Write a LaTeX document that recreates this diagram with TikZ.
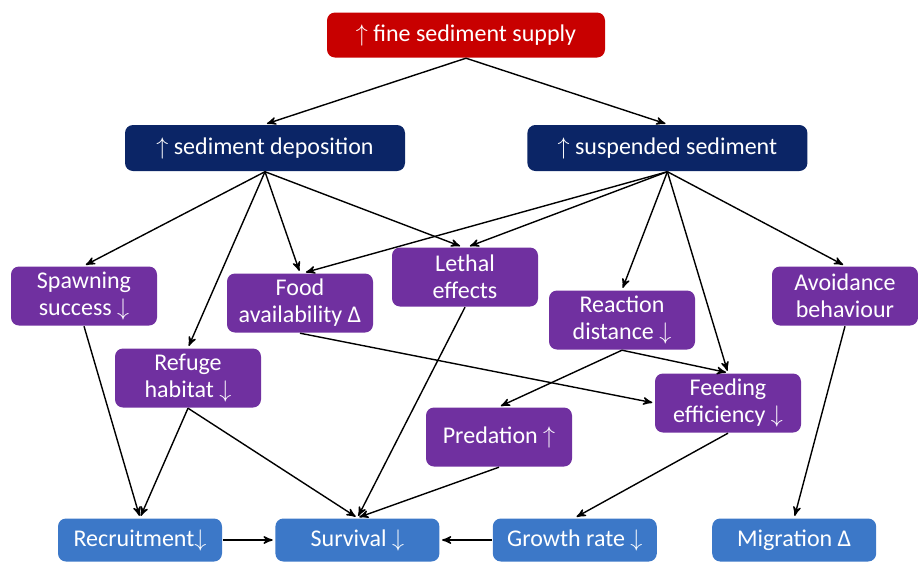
\documentclass[tikz,border=0pt]{standalone}
\usepackage{fontspec}
\setmainfont{Carlito}
\usepackage{tikz}
\usetikzlibrary{arrows,positioning}

\definecolor{supplyred}{HTML}{C80000}
\definecolor{sednavy}{HTML}{0B2566}
\definecolor{effpurple}{HTML}{7030A0}
\definecolor{outblue}{HTML}{3C78C8}

\begin{document}
\begin{tikzpicture}[x=0.5pt,y=-0.5pt,->,>=stealth',shorten >=1pt,line width=0.7pt,
	box/.style={rounded corners=4pt,text=white,align=center,inner sep=1pt,
		font=\fontsize{12}{13.5}\selectfont},
	supplybox/.style={box,fill=supplyred,minimum width=139pt,minimum height=22.5pt},
	sedbox/.style={box,fill=sednavy,minimum width=140pt,minimum height=23pt},
	effbox/.style={box,fill=effpurple,minimum width=73pt,minimum height=29.5pt},
	outbox/.style={box,fill=outblue,minimum width=82pt,minimum height=21.5pt}]
\useasboundingbox (0,0) rectangle (918,563);

\node	[supplybox]	(supply)	at (466,35)	{$\uparrow$ fine sediment supply};
\node	[sedbox]	(depo)		at (265,148)	{$\uparrow$ sediment deposition};
\node	[sedbox]	(susp)		[right=60.5pt of depo]	{$\uparrow$ suspended sediment};

\node	[effbox]	(spawn)		at (84,296)	{Spawning\\success $\downarrow$};
\node	[effbox]	(food)		at (300,303)	{Food\\availability Δ};
\node	[effbox]	(lethal)	at (465,277)	{Lethal\\effects};
\node	[effbox]	(react)		at (622,320)	{Reaction\\distance $\downarrow$};
\node	[effbox]	(avoid)		at (845,296)	{Avoidance\\behaviour};
\node	[effbox]	(refuge)	at (188,378)	{Refuge\\habitat $\downarrow$};
\node	[effbox]	(feed)		at (728,403)	{Feeding\\efficiency $\downarrow$};
\node	[effbox]	(pred)		at (499,437)	{Predation $\uparrow$};

\node	[outbox]	(recr)		at (140,540)	{Recruitment$\downarrow$};
\node	[outbox]	(surv)		[right=26pt of recr]	{Survival $\downarrow$};
\node	[outbox]	(growth)	[right=26pt of surv]	{Growth rate $\downarrow$};
\node	[outbox]	(migr)		[right=27pt of growth]	{Migration Δ};

\path
	(supply.south)	edge	(depo.north)
	(supply.south)	edge	(susp.north)
	(depo.south)	edge	(spawn.north)
	(depo.south)	edge	(refuge.north)
	(depo.south)	edge	(food.north)
	(depo.south)	edge	([xshift=-1.5pt]lethal.north)
	(susp.south)	edge	([xshift=2pt]food.north)
	(susp.south)	edge	([xshift=1.5pt]lethal.north)
	(susp.south)	edge	(react.north)
	(susp.south)	edge	(feed.north)
	(susp.south)	edge	(avoid.north)
	(spawn.south)	edge	(recr.north)
	(refuge.south)	edge	(recr.north)
	(refuge.south)	edge	(surv.north)
	(food.south)	edge	(feed.west)
	(lethal.south)	edge	(surv.north)
	(react.south)	edge	(pred.north)
	(react.south)	edge	(feed.north)
	(pred.south)	edge	(surv.north)
	(feed.south)	edge	(growth.north)
	(avoid.south)	edge	(migr.north)
	(recr.east)	edge	(surv.west)
	(growth.west)	edge	(surv.east)
;
\end{tikzpicture}
\end{document}
